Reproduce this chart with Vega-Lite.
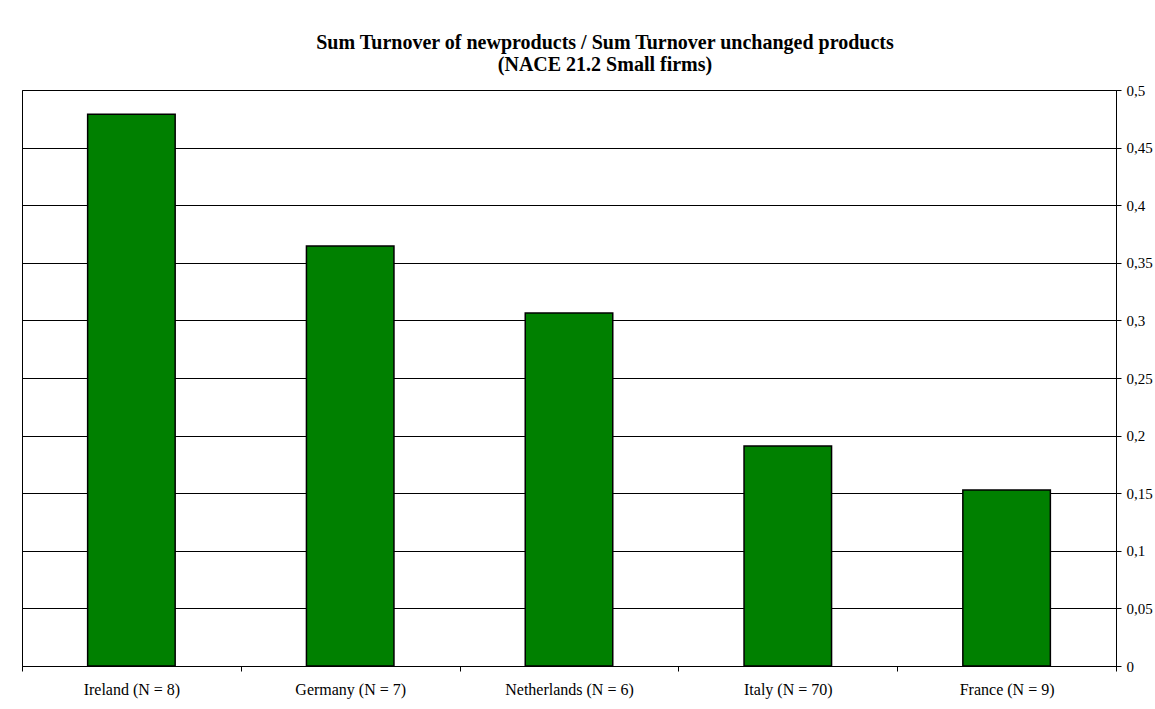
{
  "$schema": "https://vega.github.io/schema/vega-lite/v6.json",
  "autosize": "none",
  "padding": {"left": 22, "top": 90, "right": 39, "bottom": 43},
  "width": 1094,
  "height": 576,
  "background": "white",
  "title": {
    "text": ["Sum Turnover of newproducts / Sum Turnover unchanged products", "(NACE 21.2 Small firms)"],
    "font": "Liberation Serif",
    "fontSize": 20,
    "fontWeight": "bold",
    "color": "black",
    "lineHeight": 22,
    "anchor": "middle",
    "dx": 36,
    "offset": 8
  },
  "config": {
    "view": {"stroke": "black", "strokeWidth": 1},
    "axis": {
      "labelFont": "Liberation Serif",
      "labelFontSize": 15,
      "labelColor": "black",
      "domainColor": "black",
      "tickColor": "black",
      "titleFont": "Liberation Serif"
    }
  },
  "data": {
    "values": [
      {"country": "Ireland (N = 8)", "ratio": 0.479},
      {"country": "Germany (N = 7)", "ratio": 0.3646},
      {"country": "Netherlands (N = 6)", "ratio": 0.3064},
      {"country": "Italy (N = 70)", "ratio": 0.191},
      {"country": "France (N = 9)", "ratio": 0.1528}
    ]
  },
  "mark": {"type": "bar", "color": "#008000", "stroke": "black", "strokeWidth": 1.5, "width": {"band": 0.4}},
  "encoding": {
    "x": {
      "field": "country",
      "type": "nominal",
      "sort": null,
      "scale": {"paddingInner": 0, "paddingOuter": 0},
      "axis": {
        "title": null,
        "labelAngle": 0,
        "labelFontSize": 16,
        "labelPadding": 10,
        "tickBand": "extent",
        "tickSize": 5,
        "grid": false
      }
    },
    "y": {
      "field": "ratio",
      "type": "quantitative",
      "scale": {"domain": [0, 0.5], "nice": false},
      "axis": {
        "orient": "right",
        "title": null,
        "values": [0, 0.05, 0.1, 0.15, 0.2, 0.25, 0.3, 0.35, 0.4, 0.45, 0.5],
        "labelExpr": "replace(format(datum.value, '~g'), '.', ',')",
        "labelPadding": 5,
        "tickSize": 5,
        "grid": true,
        "gridColor": "black",
        "gridOpacity": 1,
        "gridWidth": 1
      }
    }
  }
}
